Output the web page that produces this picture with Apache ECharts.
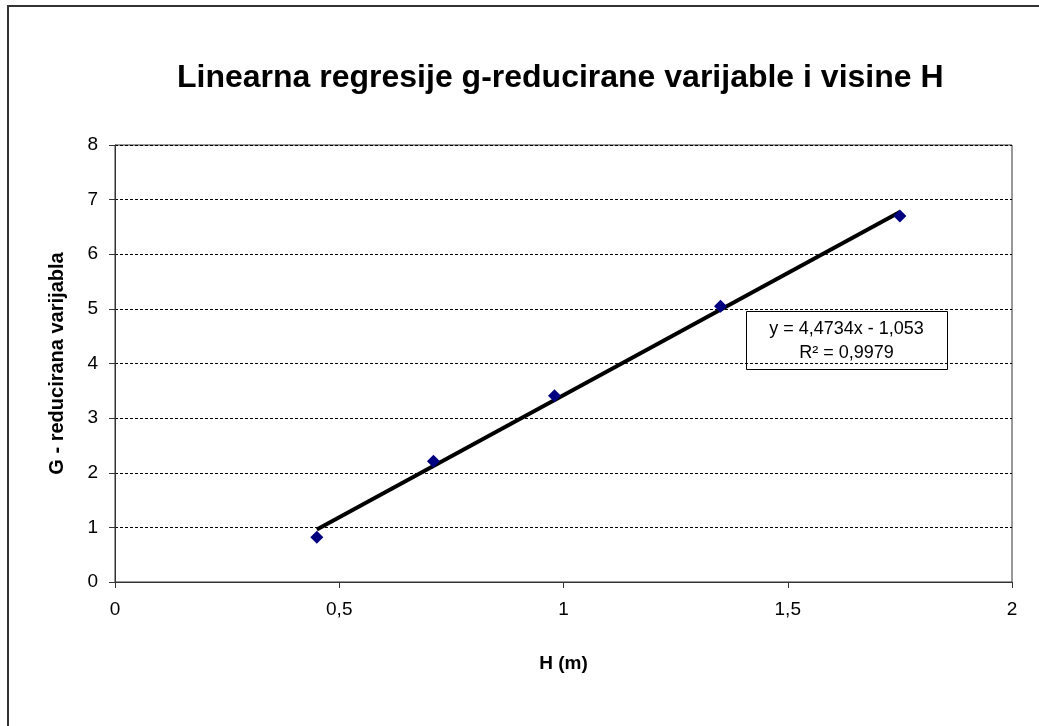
<!DOCTYPE html>
<html lang="hr">
<head>
<meta charset="UTF-8" />
<title>Linearna regresije</title>
<style>
  * { margin: 0; padding: 0; box-sizing: border-box; }
  html, body { background: #fff; }
  #chart { width: 1039px; height: 726px; }
</style>
</head>
<body>
<div id="chart"></div>
<script src="https://cdn.jsdelivr.net/npm/echarts@6/dist/echarts.min.js"></script>
<script>
// visina H (m) i g-reducirana varijabla
var hValues = [0.45, 0.71, 0.98, 1.35, 1.75];
var gValues = [0.82, 2.21, 3.41, 5.05, 6.70];

// linearni trend iz Excela
var slope = 4.4734;
var intercept = -1.053;
var rSquared = '0,9979';

var xTicks = [0, 0.5, 1, 1.5, 2];
var yTicks = [0, 1, 2, 3, 4, 5, 6, 7, 8];

var FONT = 'Liberation Sans, Arial, sans-serif';

function comma(v) {
  return String(v).replace('.', ',');
}

var points = hValues.map(function (h, i) { return [h, gValues[i]]; });
var xMin = Math.min.apply(null, hValues);
var xMax = Math.max.apply(null, hValues);
var trend = [
  [xMin, slope * xMin + intercept],
  [xMax, slope * xMax + intercept]
];

var chart = echarts.init(document.getElementById('chart'));
chart.setOption({
  animation: false,
  backgroundColor: '#fff',
  title: {
    text: 'Linearna regresije g-reducirane varijable i visine H',
    left: 172,
    top: 57,
    textStyle: { fontFamily: FONT, fontSize: 32, fontWeight: 'bold', color: '#000' }
  },
  grid: {
    left: 115, right: 27, top: 145, bottom: 144,
    show: true, borderColor: '#333', borderWidth: 1
  },
  xAxis: {
    type: 'value',
    min: xTicks[0], max: xTicks[xTicks.length - 1], interval: 0.5,
    name: 'H (m)',
    nameLocation: 'middle',
    nameGap: 72,
    nameTextStyle: { fontFamily: FONT, fontSize: 19, fontWeight: 'bold', color: '#000' },
    axisLine: { lineStyle: { color: '#333', width: 1 } },
    axisTick: { show: true, length: 6, inside: false, lineStyle: { color: '#333' } },
    axisLabel: {
      margin: 18, fontFamily: FONT, fontSize: 19, color: '#000',
      formatter: function (v) { return comma(v); }
    },
    splitLine: { show: false }
  },
  yAxis: {
    type: 'value',
    min: yTicks[0], max: yTicks[yTicks.length - 1], interval: 1,
    name: 'G - reducirana varijabla',
    nameLocation: 'middle',
    nameGap: 48,
    nameTextStyle: { fontFamily: FONT, fontSize: 20, fontWeight: 'bold', color: '#000' },
    axisLine: { show: true, lineStyle: { color: '#333', width: 1 } },
    axisTick: { show: true, length: 6, inside: false, lineStyle: { color: '#333' } },
    axisLabel: { margin: 17, fontFamily: FONT, fontSize: 19, color: '#000' },
    splitLine: { show: true, lineStyle: { color: '#000', width: 1, type: [3, 2] } }
  },
  series: [
    {
      name: 'trend',
      type: 'line',
      data: trend,
      symbol: 'none',
      lineStyle: { color: '#000', width: 4 },
      z: 2
    },
    {
      name: 'G',
      type: 'scatter',
      data: points,
      symbol: 'diamond',
      symbolSize: 13,
      itemStyle: { color: '#000080', opacity: 1 },
      z: 3
    }
  ],
  graphic: [
    {
      type: 'polyline',
      shape: { points: [[8, 726], [8, 6], [1039, 6]] },
      style: { stroke: '#333', lineWidth: 2, fill: null },
      z: 1
    },
    {
      type: 'group',
      left: 746,
      top: 311,
      z: 10,
      children: [
        {
          type: 'rect',
          shape: { x: 0, y: 0, width: 201, height: 58 },
          style: { fill: '#fff', stroke: '#000', lineWidth: 1 }
        },
        {
          type: 'text',
          x: 100, y: 18,
          style: {
            text: 'y = ' + comma(slope) + 'x - ' + comma(-intercept),
            font: '18px ' + FONT, fill: '#000', align: 'center', verticalAlign: 'middle'
          }
        },
        {
          type: 'text',
          x: 100, y: 42,
          style: {
            text: 'R² = ' + rSquared,
            font: '18px ' + FONT, fill: '#000', align: 'center', verticalAlign: 'middle'
          }
        }
      ]
    }
  ]
});
</script>
</body>
</html>
